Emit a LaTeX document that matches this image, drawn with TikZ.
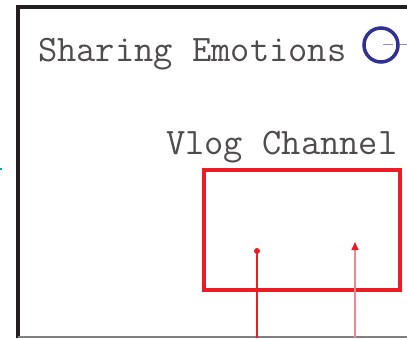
\documentclass[tikz,border=0pt]{standalone}
\usepackage{fontspec}
\usepackage{tikz}
\usetikzlibrary{arrows.meta}

\definecolor{framegray}{HTML}{231F20}
\definecolor{chanred}{HTML}{ED1C24}
\definecolor{linkpink}{HTML}{F4858A}
\definecolor{emoblue}{HTML}{2E3192}
\definecolor{dashblue}{HTML}{8A8CC8}
\definecolor{markteal}{HTML}{00A99D}

\tikzset{
  label text/.style={inner sep=0, anchor=base west, text=framegray!80,
    font=\ttfamily\fontsize{37.4}{44}\selectfont},
  chan box/.style={draw=chanred, line width=4pt, inner sep=0},
}

\begin{document}
\begin{tikzpicture}[x=1pt, y=1pt]
      \useasboundingbox (0, 0) rectangle (407, 338);
      % frame
      \draw [framegray, line width=4] (18, 0) -- (18, 331) -- (407, 331);
      \draw [gray, line width=1.5] (18, 1) -- (407, 1);
      \draw [markteal, line width=2] (0, 169) -- (2, 169);

      \node [label text] (sharing) at (38, 276) {Sharing Emotions};
      \node [draw=emoblue, line width=3.5, circle, minimum size=34, inner sep=0] (emo) at (381, 293) {};
      \draw [dashblue, line width=1, dash pattern=on 10pt off 7pt] (emo.center) ++(2, 0) -- (407, 293);

      \node [label text] (vlog) at (166, 184) {Vlog Channel};
      \node [chan box, minimum width=196, minimum height=120] (channel) at (302, 108) {};

      \coordinate (in) at (257, 87);
      \coordinate (out) at (355, 96);
      \fill [chanred] (in) circle (3);
      \draw [chanred, line width=1.2] (257, 0) -- (in);
      \draw [linkpink, line width=1.5, -{Triangle[length=8pt, width=7pt, color=chanred]}] (355, 0) -- (out);
\end{tikzpicture}
\end{document}
